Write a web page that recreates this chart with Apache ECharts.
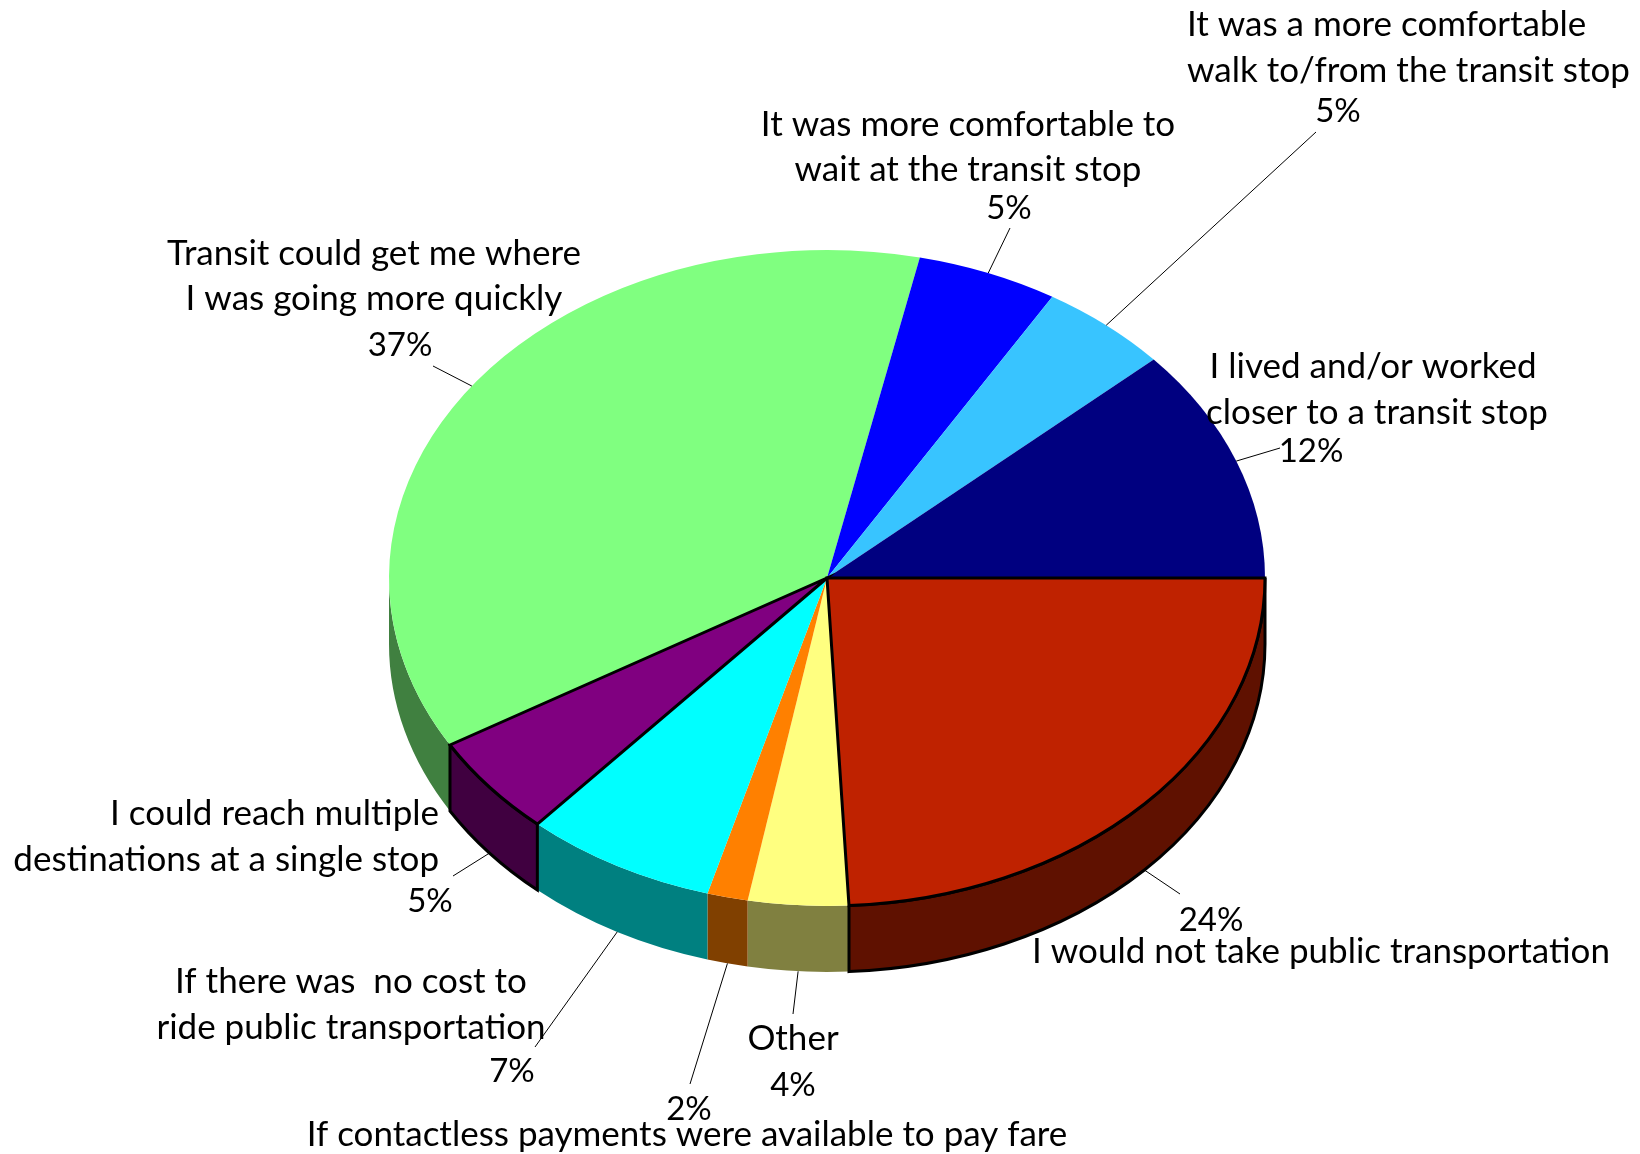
<!DOCTYPE html>
<html>
<head>
<meta charset="utf-8">
<style>
  html, body { margin: 0; padding: 0; background: #ffffff; }
  #chart { width: 1640px; height: 1154px; }
</style>
<script src="https://cdn.jsdelivr.net/npm/echarts@6/dist/echarts.min.js"></script>
</head>
<body>
<div id="chart"></div>
<script>
// slices run clockwise from 3 o'clock
const categories = [
  ['I would not take public transportation'],
  ['Other'],
  ['If contactless payments were available to pay fare'],
  ['If there was  no cost to', 'ride public transportation'],
  ['I could reach multiple', 'destinations at a single stop'],
  ['Transit could get me where', 'I was going more quickly'],
  ['It was more comfortable to', 'wait at the transit stop'],
  ['It was a more comfortable', 'walk to/from the transit stop'],
  ['I lived and/or worked', 'closer to a transit stop']
];
const values = [24.2, 3.7, 1.5, 7.1, 5.0, 36.9, 5.2, 4.8, 11.6];
const topColors = ['#bf2200', '#ffff80', '#ff8000', '#00ffff', '#800080', '#80ff80', '#0000ff', '#38c4ff', '#000080'];
const sideColors = ['#5f1100', '#808040', '#804000', '#008080', '#400040', '#408040', '#000080', '#1c6280', '#000040'];
const outlined = [true, false, false, false, true, false, false, false, false];

// hand placed label lines: [x, y, align], then the percent, then where the leader stops
const labelSpots = [
  { lines: [[1321, 952, 'center']], pct: [1211, 920], leader: [1180, 894] },
  { lines: [[793, 1039, 'center']], pct: [793, 1085], leader: [793, 1014] },
  { lines: [[687, 1135, 'center']], pct: [689, 1109], leader: [690, 1084] },
  { lines: [[351, 982, 'center'], [351, 1028, 'center']], pct: [512, 1071], leader: [535, 1047] },
  { lines: [[439, 814, 'right'], [439, 860, 'right']], pct: [430, 901], leader: [453, 876] },
  { lines: [[374, 254, 'center'], [374, 299, 'center']], pct: [400, 345], leader: [433, 366] },
  { lines: [[968, 125, 'center'], [968, 170, 'center']], pct: [1009, 208], leader: [1010, 228] },
  { lines: [[1187, 25, 'left'], [1187, 71, 'left']], pct: [1338, 111], leader: [1316, 132] },
  { lines: [[1373, 367, 'center'], [1377, 413, 'center']], pct: [1311, 451], leader: [1280, 448] }
];

const cx = 827, cy = 578, rx = 438, ry = 328, depth = 66;
const labelFont = '35px Lato';
const pctFont = '33px Lato';

const total = values.reduce((a, b) => a + b, 0);
const starts = [];
values.reduce((sum, v, i) => { starts[i] = sum; return sum + v; }, 0);

function angleOf(share) {
  return share / total * Math.PI * 2;
}
function edge(angle, drop) {
  return [cx + rx * Math.cos(angle), cy + ry * Math.sin(angle) + (drop || 0)];
}

function renderSide(params, api) {
  const i = api.value(0);
  const a0 = angleOf(starts[i]);
  const a1 = Math.min(a0 + angleOf(api.value(1)), Math.PI);
  if (a0 >= Math.PI) return null;
  const p0 = edge(a0), p1 = edge(a1);
  const pathData = 'M' + p0[0] + ' ' + p0[1] +
    ' A' + rx + ' ' + ry + ' 0 0 1 ' + p1[0] + ' ' + p1[1] +
    ' L' + p1[0] + ' ' + (p1[1] + depth) +
    ' A' + rx + ' ' + ry + ' 0 0 0 ' + p0[0] + ' ' + (p0[1] + depth) + ' Z';
  return {
    type: 'path',
    shape: { pathData: pathData },
    z2: outlined[i] ? 2 : 1,
    style: {
      fill: sideColors[i],
      stroke: outlined[i] ? '#000000' : null,
      lineWidth: outlined[i] ? 3 : 0
    }
  };
}

function renderTop(params, api) {
  const i = api.value(0);
  const a0 = angleOf(starts[i]);
  const a1 = a0 + angleOf(api.value(1));
  const p0 = edge(a0), p1 = edge(a1);
  const large = a1 - a0 > Math.PI ? 1 : 0;
  const pathData = 'M' + cx + ' ' + cy + ' L' + p0[0] + ' ' + p0[1] +
    ' A' + rx + ' ' + ry + ' 0 ' + large + ' 1 ' + p1[0] + ' ' + p1[1] + ' Z';
  return {
    type: 'path',
    shape: { pathData: pathData },
    z2: outlined[i] ? 2 : 1,
    style: {
      fill: topColors[i],
      stroke: outlined[i] ? '#000000' : null,
      lineWidth: outlined[i] ? 3 : 0
    }
  };
}

function renderLabel(params, api) {
  const i = api.value(0);
  const v = api.value(1);
  const spot = labelSpots[i];
  const mid = angleOf(starts[i] + v / 2);
  // front slices have the leader hanging off the bottom of the side wall
  const from = edge(mid, Math.sin(mid) > 0 ? depth : 0);
  const children = [{
    type: 'line',
    shape: { x1: from[0], y1: from[1], x2: spot.leader[0], y2: spot.leader[1] },
    style: { stroke: '#000000', lineWidth: 1 }
  }];
  categories[i].forEach((text, n) => {
    const pos = spot.lines[n];
    children.push({
      type: 'text',
      style: { text: text, x: pos[0], y: pos[1], align: pos[2], verticalAlign: 'middle', font: labelFont, fill: '#000000' }
    });
  });
  children.push({
    type: 'text',
    style: { text: Math.round(v) + '%', x: spot.pct[0], y: spot.pct[1], align: 'center', verticalAlign: 'middle', font: pctFont, fill: '#000000' }
  });
  return { type: 'group', children: children };
}

const rows = values.map((v, i) => [i, v]);

const chart = echarts.init(document.getElementById('chart'));
chart.setOption({
  backgroundColor: '#ffffff',
  animation: false,
  series: [
    { type: 'custom', coordinateSystem: 'none', silent: true, z: 1, data: rows, renderItem: renderSide },
    { type: 'custom', coordinateSystem: 'none', silent: true, z: 2, data: rows, renderItem: renderTop },
    { type: 'custom', coordinateSystem: 'none', silent: true, z: 3, data: rows, renderItem: renderLabel }
  ]
});
</script>
</body>
</html>
